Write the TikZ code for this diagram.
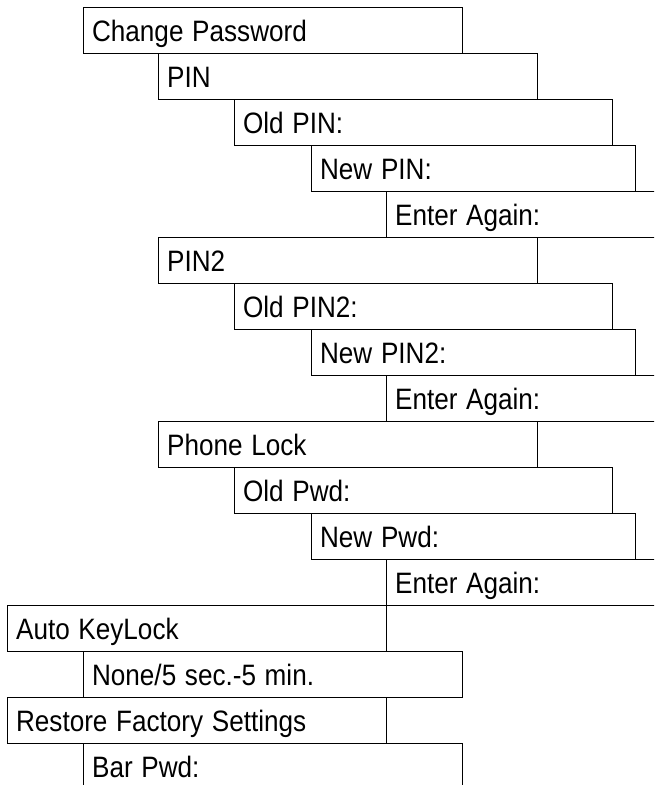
\documentclass[tikz,border=0pt]{standalone}
\usepackage{graphicx}
\usepackage{fontspec}
\setmainfont{Liberation Sans}
\newcommand\narrowtxt[1]{\scalebox{0.885}[1]{#1}}
\begin{document}
\begin{tikzpicture}[x=1pt,y=-1pt,
  cell/.style={draw, line width=1.2pt, anchor=north west, inner xsep=8.5pt, inner ysep=0pt,
    minimum height=46pt, text height=24pt, text depth=2pt, align=left,
    font=\fontsize{29.5}{34}\selectfont}]
\useasboundingbox (0,0) rectangle (654,785);
\clip (0,0) rectangle (654,785);
\node[cell, text width=362pt] (cp)   at (83,7)   {\narrowtxt{Change Password}};
\node[cell, text width=362pt] (pin)  at (158,53) {\narrowtxt{PIN}};
\node[cell, text width=361pt] (opin) at (234,99) {\narrowtxt{Old PIN:}};
\node[cell, text width=307pt] (npin) at (311,145) {\narrowtxt{New PIN:}};
\node[cell, text width=257pt] (ea1)  at (386,191) {\narrowtxt{Enter Again:}};
\node[cell, text width=362pt] (pin2) at (158,237) {\narrowtxt{PIN2}};
\node[cell, text width=361pt] (opin2) at (234,283) {\narrowtxt{Old PIN2:}};
\node[cell, text width=307pt] (npin2) at (311,329) {\narrowtxt{New PIN2:}};
\node[cell, text width=257pt] (ea2)  at (386,375) {\narrowtxt{Enter Again:}};
\node[cell, text width=362pt] (pl)   at (158,421) {\narrowtxt{Phone Lock}};
\node[cell, text width=361pt] (opwd) at (234,467) {\narrowtxt{Old Pwd:}};
\node[cell, text width=307pt] (npwd) at (311,513) {\narrowtxt{New Pwd:}};
\node[cell, text width=257pt] (ea3)  at (386,559) {\narrowtxt{Enter Again:}};
\node[cell, text width=362pt] (akl)  at (7,605)   {\narrowtxt{Auto KeyLock}};
\node[cell, text width=362pt] (none) at (83,651)  {\narrowtxt{None/5 sec.-5 min.}};
\node[cell, text width=362pt] (rfs)  at (7,697)   {\narrowtxt{Restore Factory Settings}};
\node[cell, text width=362pt] (bar)  at (83,743)  {\narrowtxt{Bar Pwd:}};
\end{tikzpicture}
\end{document}
